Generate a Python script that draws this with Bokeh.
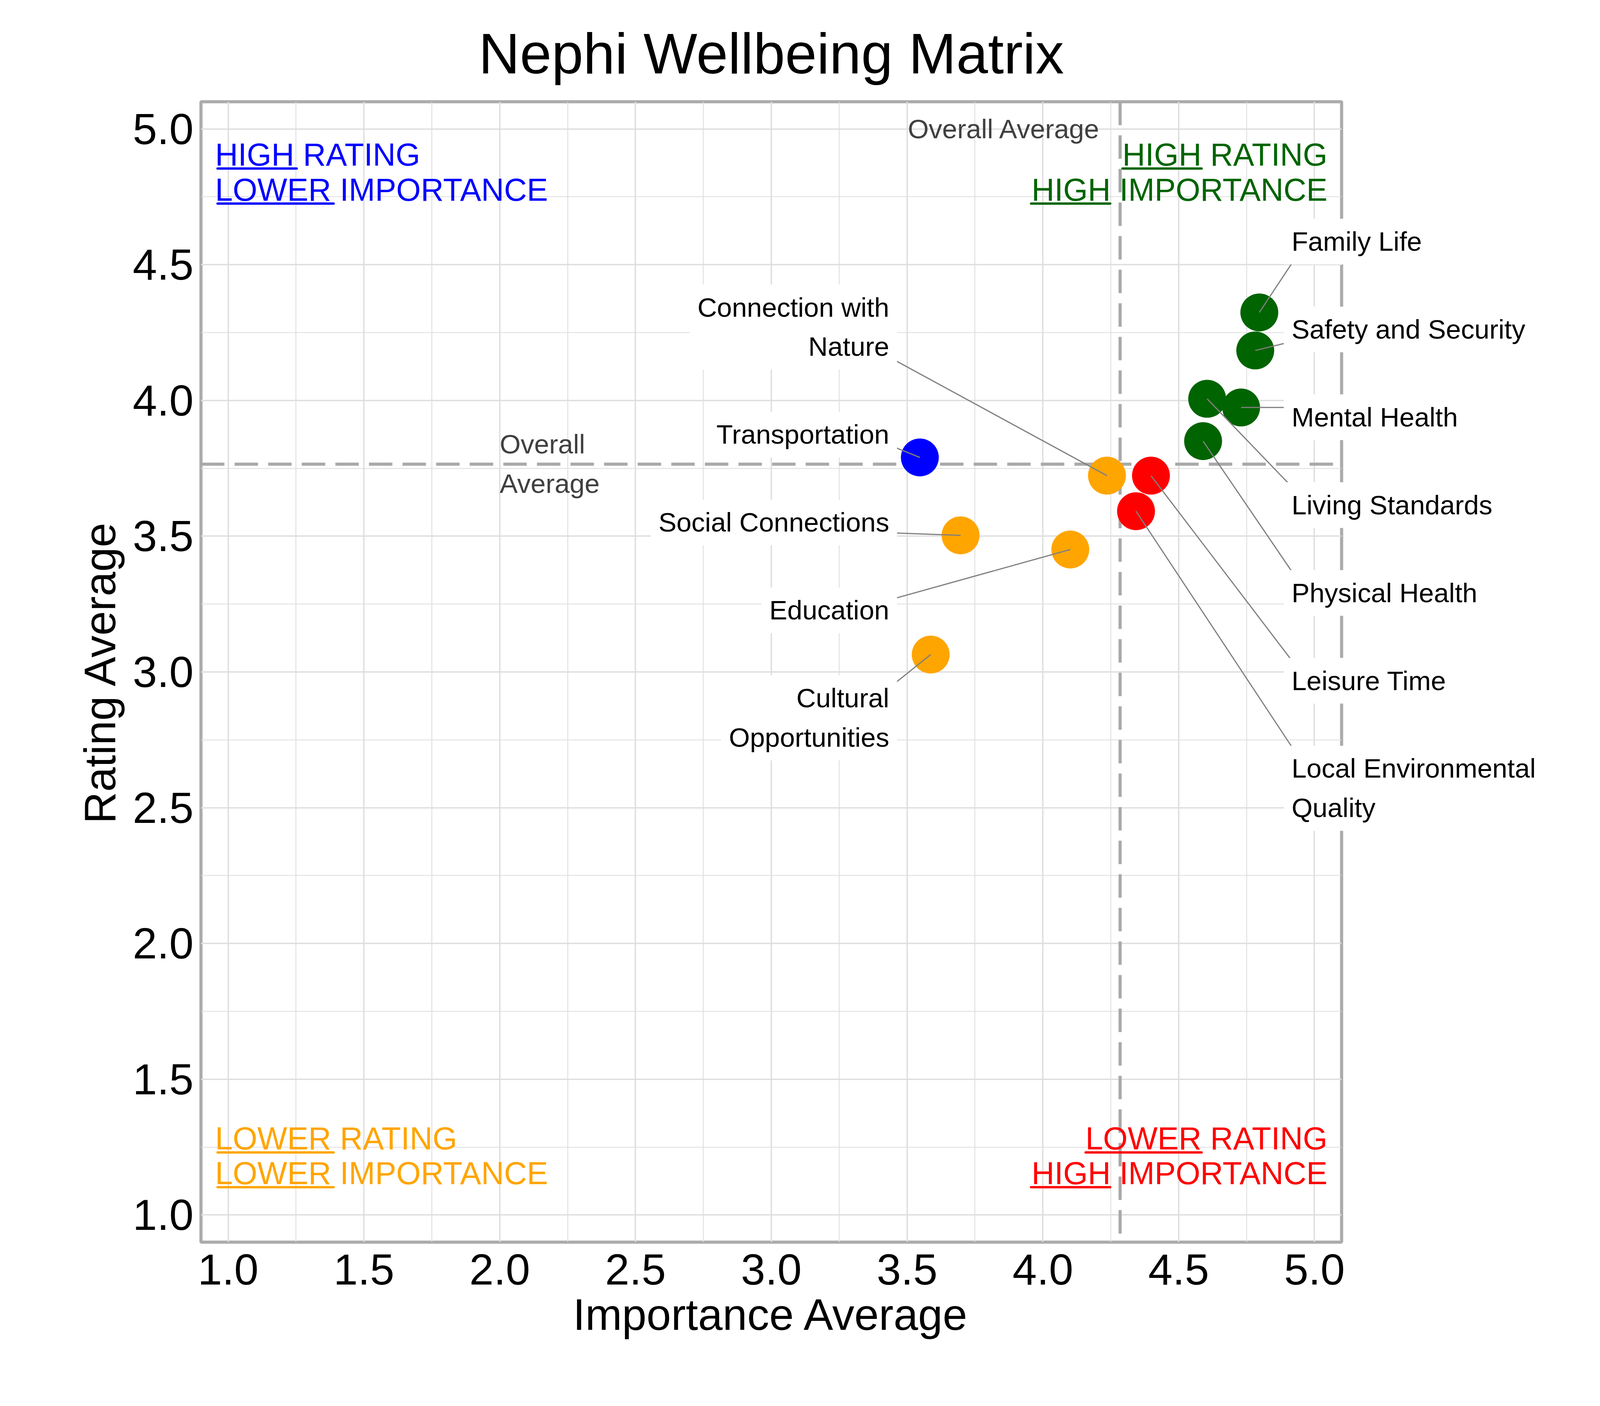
import textwrap
import numpy as np
from bokeh.plotting import figure
from bokeh.models import Label, Span, FixedTicker, PrintfTickFormatter
from bokeh.core.properties import value
from bokeh.embed import file_html
from bokeh.resources import INLINE

# data
domains = ["Family Life", "Safety and Security", "Mental Health", "Living Standards",
           "Physical Health", "Leisure Time", "Local Environmental Quality",
           "Connection with Nature", "Transportation", "Social Connections",
           "Education", "Cultural Opportunities"]
importance = [4.797, 4.782, 4.730, 4.605, 4.590, 4.398, 4.343, 4.236, 3.547, 3.697, 4.101, 3.587]
rating = [4.324, 4.184, 3.974, 4.006, 3.850, 3.723, 3.592, 3.723, 3.790, 3.503, 3.451, 3.064]

ticks = [1.0, 1.5, 2.0, 2.5, 3.0, 3.5, 4.0, 4.5, 5.0]
minor_ticks = [1.25, 1.75, 2.25, 2.75, 3.25, 3.75, 4.25, 4.75]

quad_text = {
    "tl": [("HIGH", " RATING"), ("LOWER", " IMPORTANCE")],
    "tr": [("HIGH", " RATING"), ("HIGH", " IMPORTANCE")],
    "bl": [("LOWER", " RATING"), ("LOWER", " IMPORTANCE")],
    "br": [("LOWER", " RATING"), ("HIGH", " IMPORTANCE")],
}

FONT = "Liberation Sans"
FW = 2920
PXU = FW / 4.2  # pixels per data unit

avg_x = float(np.mean(importance))
avg_y = float(np.mean(rating))

def quad_colour(x, y):
    if x >= avg_x:
        return "#006400" if y >= avg_y else "#FF0000"
    return "#0000FF" if y >= avg_y else "#FFA500"

colours = [quad_colour(x, y) for x, y in zip(importance, rating)]

p = figure(frame_width=FW, frame_height=FW, x_range=(0.9, 5.1), y_range=(0.9, 5.1),
           output_backend="svg", toolbar_location=None, tools="",
           min_border_left=514, min_border_right=750, min_border_top=260, min_border_bottom=404,
           title="Nephi Wellbeing Matrix")
p.title.text_font = FONT
p.title.text_font_size = "146px"
p.title.text_font_style = "normal"
p.title.text_color = "black"
p.title.align = "center"
p.title.standoff = 83

p.outline_line_color = "#ABABAB"
p.outline_line_width = 8

for ax in (p.xaxis[0], p.yaxis[0]):
    ax.ticker = FixedTicker(ticks=ticks, minor_ticks=minor_ticks)
    ax.formatter = PrintfTickFormatter(format="%.1f")
    ax.axis_line_color = None
    ax.major_tick_line_color = None
    ax.minor_tick_line_color = None
    ax.major_tick_out = 0
    ax.major_label_text_font = FONT
    ax.major_label_text_font_size = "112px"
    ax.major_label_text_color = "black"
    ax.axis_label_text_font = FONT
    ax.axis_label_text_font_size = "113px"
    ax.axis_label_text_font_style = "normal"
    ax.axis_label_text_color = "black"
p.xaxis.axis_label = "Importance Average"
p.yaxis.axis_label = "Rating Average"
p.xaxis.major_label_standoff = 27
p.yaxis.major_label_standoff = 15
p.xaxis.axis_label_standoff = 11
p.yaxis.axis_label_standoff = 18

for g in (p.xgrid[0], p.ygrid[0]):
    g.grid_line_color = "#DEDEDE"
    g.grid_line_width = 3.5
    g.minor_grid_line_color = "#DEDEDE"
    g.minor_grid_line_width = 2.2

# average lines
for loc, dim in ((avg_x, "height"), (avg_y, "width")):
    p.add_layout(Span(location=loc, dimension=dim, line_color="#A9A9A9", line_width=8,
                      line_dash="60 26", level="underlay"))

LS = 69
LH = 1.31  # bokeh line height is relative to the font's ascent+descent
p.text(x=[avg_x - 0.072], y=[5.0], text=["Overall Average"], text_font=value(FONT),
       text_font_size=f"{LS}px", text_color="#404040", text_align="right", text_baseline="middle")
p.text(x=[2.0], y=[avg_y], text=["Overall\nAverage"], text_font=value(FONT),
       text_font_size=f"{LS}px", text_color="#404040", text_align="left", text_baseline="middle",
       text_line_height=LH)

# quadrant captions with underlined first word
ADV = {"H": .722, "I": .278, "G": .778, "L": .556, "O": .778, "W": .944, "E": .667, "R": .722,
       "A": .667, "T": .611, "N": .722, "M": .833, "P": .667, "C": .722, " ": .278}
QS = 81

def tw(s):
    return sum(ADV[c] for c in s) * QS / PXU

quad_pos = {"tl": (0.952, "left", (4.864, 4.735)), "tr": (5.048, "right", (4.864, 4.735)),
            "bl": (0.952, "left", (1.2406, 1.1125)), "br": (5.048, "right", (1.2406, 1.1125))}
quad_col = {"tl": "#0000FF", "tr": "#006400", "bl": "#FFA500", "br": "#FF0000"}
bearing = 0.078 * QS / PXU  # underline starts under the first glyph's ink
for key, lines in quad_text.items():
    qx, align, bases = quad_pos[key]
    for (word, rest), yb in zip(lines, bases):
        p.text(x=[qx], y=[yb + 0.352 * QS / PXU], text=[word + rest], text_font=value(FONT),
               text_font_size=f"{QS}px", text_color=quad_col[key], text_align=align,
               text_baseline="middle")
        x0 = (qx if align == "left" else qx - tw(word + rest)) + bearing
        uy = yb - 7 / PXU
        p.segment(x0=[x0], y0=[uy], x1=[x0 + tw(word)], y1=[uy], line_color=quad_col[key],
                  line_width=6, line_cap="round")

# points
p.scatter(x=importance, y=rating, size=97, fill_color=colours, line_color=None)

# repelled labels, stacked on either side
step = 0.3235
half_line = 0.0725
pad = 20
starts = {"right": 4.585, "left": 4.270}
box_edge = {"right": 4.887, "left": 3.463}
prev = {"right": None, "left": None}
seg = {"x0": [], "y0": [], "x1": [], "y1": []}
labels = []
for name, x, y in zip(domains, importance, rating):
    side = "right" if x >= avg_x else "left"
    txt = textwrap.fill(name, 20)
    n = txt.count("\n") + 1
    if prev[side] is None:
        cy = starts[side]
    else:
        pcy, pn = prev[side]
        cy = pcy - step - (pn - 1 + n - 1) * half_line
    prev[side] = (cy, n)
    hb = (77 / 2 + pad) / PXU + (n - 1) * half_line
    m = 32 / PXU
    ey = min(max(y, cy - hb + m), cy + hb - m)
    inset = 2 * pad / PXU if side == "right" else -pad / PXU
    seg["x0"].append(x)
    seg["y0"].append(y)
    seg["x1"].append(box_edge[side] + inset)
    seg["y1"].append(ey)
    lab = Label(x=box_edge[side], y=cy, text=txt, text_font=FONT, text_font_size=f"{LS}px",
                text_color="black", text_align="left" if side == "right" else "right",
                text_baseline="middle", text_line_height=LH,
                background_fill_color="white", padding=pad)
    labels.append((side, lab))

p.segment(x0="x0", y0="y0", x1="x1", y1="y1", source=seg, line_color="#7F7F7F", line_width=3)
for side, lab in labels:
    # labels on the right run past the panel, so they live in the side panel (not clipped)
    if side == "right":
        p.add_layout(lab, "right")
    else:
        p.add_layout(lab)

open("out.html", "w").write(file_html(p, INLINE))
